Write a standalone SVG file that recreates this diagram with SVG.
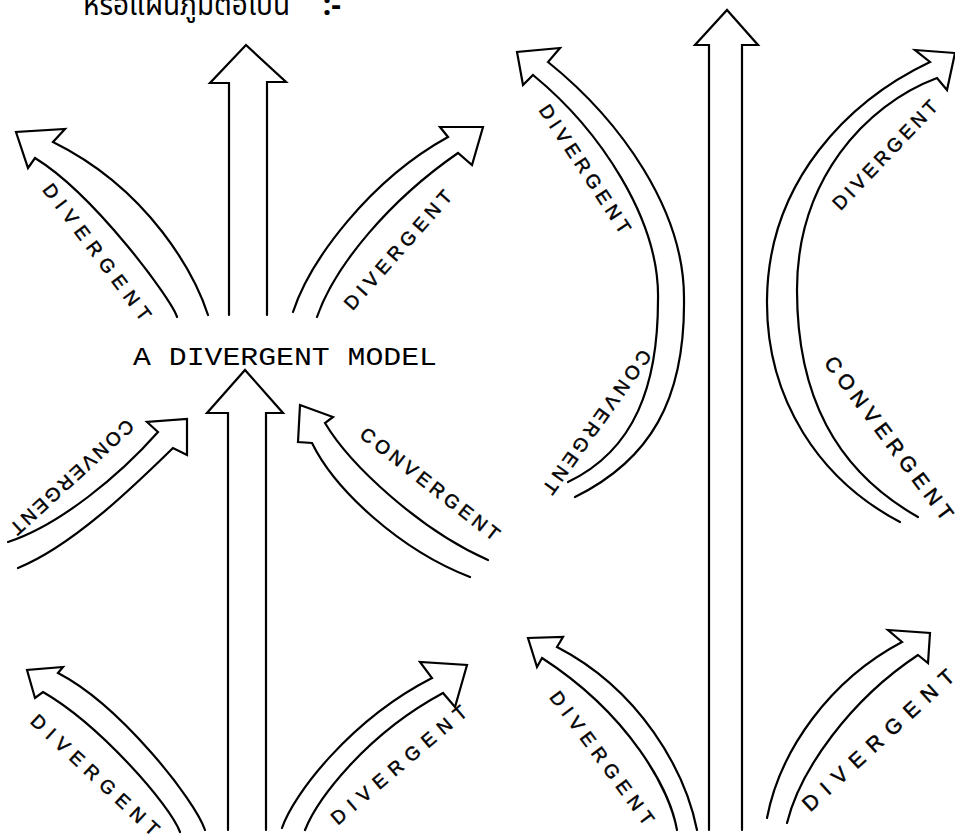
<svg xmlns="http://www.w3.org/2000/svg" width="955" height="836" viewBox="0 0 955 836">
<style>
.ln{fill:none;stroke:#000;stroke-width:2.2;stroke-linejoin:miter;stroke-linecap:round}
.lb{font-family:"Liberation Sans","DejaVu Sans",sans-serif;font-size:19px;fill:#000;stroke:#000;stroke-width:0.5;text-anchor:middle;dominant-baseline:central}
.big{font-size:21px}
.mono{font-family:"Liberation Mono","DejaVu Sans Mono",monospace;font-size:25px;fill:#000}
.th{font-family:"Noto Sans Thai","Noto Sans Thai Looped","Noto Sans","DejaVu Sans",sans-serif;font-size:30px;fill:#000}
</style>
<rect width="955" height="836" fill="#fff"/>
<g id="heading"><text class="th" y="15"><tspan x="83" textLength="207" lengthAdjust="spacingAndGlyphs">หรือแผนภูมิต่อไปนี้</tspan><tspan x="315" font-weight="bold"> :-</tspan></text></g>
<g id="title"><text class="mono" x="133" y="365" textLength="304" lengthAdjust="spacingAndGlyphs">A DIVERGENT MODEL</text></g>
<g id="connectors">
<g id="left-top-vertical"><path class="ln" d="M229,315 L229,83 L210,83 L246,45 L286,82 L267,82 L267,315"/></g>
<g id="left-top-left"><path class="ln" d="M208,315 C195,275 150,190 53,142 L65,129 L16,132 L28,168 L35,158 C95,195 172,300 177,317"/></g>
<g id="left-top-right"><path class="ln" d="M293,312 C310,260 370,180 448,137 L440,127 L483,127 L472,165 L458,153 C390,200 335,265 317,317"/></g>
<g id="left-bottom-vertical"><path class="ln" d="M228,830 L228,413 L207,413 L245,370 L283,413 L266,413 L266,830"/></g>
<g id="left-conv-left"><path class="ln" d="M8,542 C60,525 120,475 158,432 L147,422 L187,419 L187,455 L173,448 C140,480 75,545 18,568"/></g>
<g id="left-conv-right"><path class="ln" d="M488,560 C420,530 350,465 325,423 L333,417 L300,405 L298,442 L312,443 C335,490 400,550 470,577"/></g>
<g id="left-bottom-left"><path class="ln" d="M205,830 C195,800 120,705 58,673 L63,667 L27,670 L35,698 L43,692 C100,725 170,805 180,832"/></g>
<g id="left-bottom-right"><path class="ln" d="M282,828 C293,795 350,720 432,678 L420,662 L467,665 L455,707 L443,693 C365,735 317,800 305,830"/></g>
<g id="right-vertical"><path class="ln" d="M709,830 L709,45 L695,45 L727,10 L758,45 L742,45 L742,830"/></g>
<g id="right-big-left"><path class="ln" d="M575,497 C650,460 685,400 684,300 C685,210 620,120 548,62 L560,48 L517,52 L523,85 L533,75 C600,130 660,220 658,300 C658,385 635,450 568,482"/></g>
<g id="right-big-right"><path class="ln" d="M900,522 C820,480 766,400 767,300 C768,180 850,100 930,62 L915,50 L955,53 L947,90 L937,78 C865,105 797,180 797,290 C797,395 835,470 918,517"/></g>
<g id="right-bottom-left"><path class="ln" d="M697,830 C685,770 640,690 557,647 L563,637 L528,638 L537,667 L542,658 C630,715 670,790 677,830"/></g>
<g id="right-bottom-right"><path class="ln" d="M767,818 C780,750 830,680 902,642 L888,630 L930,633 L928,663 L918,655 C850,700 800,770 787,823"/></g>
</g>
<g id="labels">
<text class="lb" x="97" y="252" textLength="166" lengthAdjust="spacing" transform="rotate(53 97 252)">DIVERGENT</text>
<text class="lb" x="398" y="250" textLength="152" lengthAdjust="spacing" transform="rotate(-48.5 398 250)">DIVERGENT</text>
<text class="lb" x="72" y="477" textLength="160" lengthAdjust="spacing" transform="rotate(137.5 72 477)">CONVERGENT</text>
<text class="lb" x="430" y="484" textLength="171" lengthAdjust="spacing" transform="rotate(38 430 484)">CONVERGENT</text>
<text class="lb" x="95" y="775" textLength="168" lengthAdjust="spacing" transform="rotate(43 95 775)">DIVERGENT</text>
<text class="lb" x="399" y="765" textLength="172" lengthAdjust="spacing" transform="rotate(-40.4 399 765)">DIVERGENT</text>
<text class="lb" x="585" y="169" textLength="150" lengthAdjust="spacing" transform="rotate(56.5 585 169)">DIVERGENT</text>
<text class="lb" x="597" y="422" textLength="172" lengthAdjust="spacing" transform="rotate(125.6 597 422)">CONVERGENT</text>
<text class="lb" x="885" y="155" textLength="143" lengthAdjust="spacing" transform="rotate(-46.5 885 155)">DIVERGENT</text>
<text class="lb big" x="889" y="438" textLength="199" lengthAdjust="spacing" transform="rotate(53 889 438)">CONVERGENT</text>
<text class="lb" x="602" y="758" textLength="161" lengthAdjust="spacing" transform="rotate(53.4 602 758)">DIVERGENT</text>
<text class="lb big" x="878" y="740" textLength="198" lengthAdjust="spacing" transform="rotate(-42.6 878 740)">DIVERGENT</text>
</g>
</svg>
